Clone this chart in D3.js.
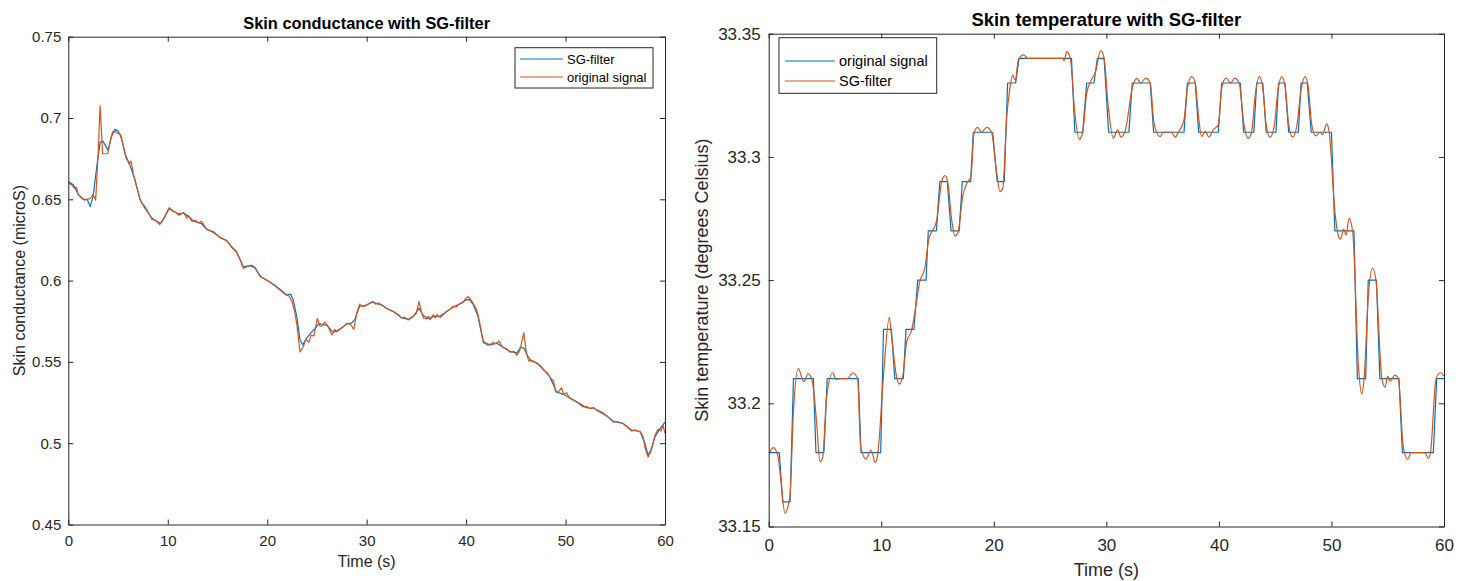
<!DOCTYPE html>
<html>
<head>
<meta charset="utf-8">
<script src="https://cdn.jsdelivr.net/npm/d3@7/dist/d3.min.js"></script>
<style>
  html, body { margin: 0; padding: 0; background: #fff; }
  text { font-family: "Liberation Sans", Arial, Helvetica, sans-serif; }
</style>
</head>
<body>
<svg id="chart" width="1464" height="581"></svg>
<script>
// ---------------- DATA ----------------
// Left panel: skin conductance
const scXTicks = [0, 10, 20, 30, 40, 50, 60];
const scYTicks = [0.45, 0.5, 0.55, 0.6, 0.65, 0.7, 0.75];
const scLegend = ["SG-filter", "original signal"];

const scFiltT = [0,0.5,1.0,1.5,1.9,2.2,2.5,2.9,3.2,3.45,3.75,4.0,4.3,4.7,5.0,5.3,5.7,6.2,6.7,7.2,7.7,8.4,9.0,9.3,9.6,10.15,10.5,11.1,11.6,12.1,12.6,13.4,13.9,14.6,15.25,15.9,16.4,16.9,17.6,18.27,18.8,19.3,20.1,20.7,21.3,21.96,22.36,22.6,23.0,23.3,23.57,23.97,24.3,24.8,25.2,25.6,26.0,26.5,26.8,27.3,28.05,28.5,28.8,29.3,29.8,30.6,31.2,31.5,32.0,32.7,33.5,34.2,34.7,35.26,35.7,36.2,36.7,37.4,38.05,38.7,39.4,39.9,40.3,40.7,41.2,41.7,42.1,42.4,43.1,43.7,44.4,45.1,45.5,45.8,46.25,46.6,47.1,47.8,48.4,49.1,49.8,50.4,51.3,52.1,52.8,53.8,54.8,55.8,56.65,57.5,58.0,58.3,58.6,59.0,59.5,60];
const scFiltV = [0.661,0.659,0.653,0.650,0.650,0.6455,0.652,0.672,0.685,0.686,0.683,0.680,0.688,0.693,0.692,0.689,0.678,0.671,0.662,0.650,0.6445,0.6385,0.636,0.6355,0.638,0.6445,0.643,0.641,0.6415,0.6395,0.6365,0.635,0.6315,0.630,0.6265,0.6248,0.621,0.618,0.6085,0.6092,0.6078,0.6025,0.5998,0.5975,0.5945,0.5912,0.5916,0.5885,0.577,0.5635,0.5605,0.5646,0.5672,0.5705,0.5735,0.5730,0.5725,0.5690,0.5685,0.5700,0.5734,0.5740,0.5760,0.5845,0.5845,0.5868,0.5855,0.5852,0.5828,0.5810,0.5772,0.5762,0.5780,0.5830,0.5785,0.5765,0.5780,0.5782,0.5810,0.5838,0.5858,0.5878,0.5885,0.5855,0.5780,0.5630,0.5605,0.5605,0.5615,0.5590,0.5565,0.5555,0.5590,0.5585,0.5530,0.5505,0.5495,0.5452,0.5410,0.5315,0.5300,0.5280,0.5248,0.5218,0.5215,0.5185,0.5135,0.5122,0.5080,0.5072,0.4995,0.4925,0.4960,0.5040,0.5090,0.5130];

const scOrigT = [0,0.3,0.6,0.8,1.0,1.3,1.6,1.9,2.2,2.5,2.75,3.0,3.2,3.45,3.7,3.95,4.2,4.45,4.7,5.0,5.2,5.5,5.8,6.1,6.3,6.6,7.0,7.3,7.7,8.0,8.4,8.8,9.2,9.5,10.15,10.5,10.8,11.1,11.6,11.9,12.1,12.4,12.8,13.1,13.4,13.7,13.9,14.3,14.6,15.0,15.25,15.6,15.9,16.2,16.4,16.9,17.3,17.6,18.0,18.3,18.6,18.8,19.1,19.5,20.1,20.7,21.3,21.9,22.2,22.5,22.8,23.0,23.3,23.6,23.9,24.2,24.4,24.7,25.04,25.3,25.5,25.8,26.1,26.5,26.8,27.0,27.3,27.7,28.05,28.4,28.7,29.0,29.3,29.6,30.0,30.6,30.9,31.2,31.5,31.8,32.2,32.7,33.1,33.5,33.8,34.2,34.7,35.0,35.26,35.5,35.7,36.0,36.2,36.4,36.7,36.9,37.1,37.4,37.8,38.05,38.4,38.7,39.0,39.4,39.7,39.95,40.2,40.5,40.7,41.0,41.2,41.5,41.75,42.1,42.4,42.7,43.0,43.3,43.7,44.1,44.4,44.8,45.1,45.4,45.8,46.05,46.3,46.6,47.1,47.5,47.8,48.2,48.4,48.8,49.0,49.3,49.6,49.8,50.1,50.4,50.8,51.3,51.7,52.1,52.5,52.8,53.2,53.8,54.2,54.8,55.3,55.8,56.2,56.65,57.0,57.5,57.8,58.0,58.3,58.6,59.0,59.3,59.6,59.8,60];
const scOrigV = [0.660,0.659,0.657,0.6575,0.653,0.651,0.6495,0.650,0.6505,0.653,0.6495,0.678,0.7075,0.678,0.678,0.678,0.685,0.6915,0.6918,0.6905,0.690,0.684,0.6755,0.672,0.6735,0.664,0.655,0.6485,0.6455,0.6425,0.6378,0.6368,0.6345,0.6372,0.6448,0.6425,0.6420,0.6402,0.6418,0.6385,0.6398,0.6365,0.6370,0.6355,0.6365,0.6335,0.6318,0.6305,0.6295,0.6278,0.6265,0.6255,0.6245,0.6225,0.6205,0.6175,0.6125,0.6075,0.6085,0.6095,0.6090,0.6075,0.6045,0.6018,0.5998,0.5972,0.5940,0.5912,0.5905,0.5870,0.5800,0.5720,0.5562,0.5590,0.5640,0.5620,0.5665,0.5660,0.5768,0.5720,0.5722,0.5745,0.5720,0.5665,0.5700,0.5685,0.5702,0.5720,0.5738,0.5730,0.5700,0.5800,0.5855,0.5840,0.5848,0.5872,0.5855,0.5862,0.5848,0.5838,0.5822,0.5808,0.5795,0.5770,0.5775,0.5758,0.5782,0.5800,0.5872,0.5810,0.5770,0.5765,0.5780,0.5760,0.5790,0.5770,0.5790,0.5772,0.5795,0.5812,0.5825,0.5842,0.5838,0.5860,0.5865,0.5890,0.5902,0.5880,0.5860,0.5830,0.5790,0.5700,0.5615,0.5615,0.5605,0.5620,0.5612,0.5628,0.5590,0.5580,0.5560,0.5565,0.5540,0.5570,0.5680,0.5560,0.5505,0.5510,0.5490,0.5475,0.5450,0.5430,0.5410,0.5380,0.5315,0.5318,0.5340,0.5300,0.5310,0.5278,0.5265,0.5245,0.5225,0.5225,0.5212,0.5220,0.5200,0.5180,0.5165,0.5130,0.5132,0.5120,0.5100,0.5075,0.5082,0.5070,0.5040,0.4970,0.4915,0.4950,0.5050,0.5085,0.5075,0.5110,0.5060];

// Right panel: skin temperature
const stXTicks = [0, 10, 20, 30, 40, 50, 60];
const stYTicks = [33.15, 33.2, 33.25, 33.3, 33.35];
const stLegend = ["original signal", "SG-filter"];

// original signal: piecewise-constant levels (start time, end time, value)
const stLevelStart = [0,1.24,2.2,4.2,5.2,8.2,10.2,11.2,12.2,13.24,14.18,15.2,16.2,17.2,18.18,20.3,21.23,22.24,27.2,28.25,29.2,30.2,32.3,34.2,37.2,38.2,40.25,42.2,43.36,44.2,45.3,46.2,47.3,48.2,50.3,52.3,53.27,54.3,56.3,59.35];
const stLevelEnd   = [0.94,1.9,3.97,4.9,7.96,9.95,10.9,11.96,12.9,13.98,14.9,15.87,16.93,17.94,19.9,20.93,21.94,26.9,27.9,28.9,29.8,32.0,33.9,36.9,37.9,39.95,41.9,43.1,43.9,45.07,45.87,47.06,47.85,50.0,52.0,53.04,54.0,56.0,59.05,60];
const stLevelValue = [33.18,33.16,33.21,33.18,33.21,33.18,33.23,33.21,33.23,33.25,33.27,33.29,33.27,33.29,33.31,33.29,33.33,33.34,33.31,33.33,33.34,33.31,33.33,33.31,33.33,33.31,33.33,33.31,33.33,33.31,33.33,33.31,33.33,33.31,33.27,33.21,33.25,33.21,33.18,33.21];

// SG-filtered signal
const stFiltT = [0.1,0.4,0.8,1.1,1.45,1.75,1.9,2.19,2.63,3.1,3.5,3.8,4.0,4.26,4.56,4.8,5.15,5.68,6.0,6.4,7.0,7.46,7.9,8.17,8.64,9.1,9.47,9.7,10.18,10.72,10.9,11.37,11.58,11.9,12.26,12.7,13.0,13.4,13.89,14.2,14.93,15.37,15.66,15.9,16.26,16.55,16.8,17.23,17.6,17.97,18.24,18.57,18.9,19.37,19.8,20.26,20.55,20.8,21.15,21.4,21.68,21.9,22.18,22.62,23.07,26.1,26.25,26.48,26.8,27.2,27.6,27.9,28.25,28.7,29.0,29.5,29.8,30.17,30.62,31.0,31.3,31.7,32.3,32.7,33.05,33.5,33.9,34.23,34.77,35.05,35.8,36.1,36.4,36.9,37.2,37.58,37.9,38.2,38.47,38.8,39.1,39.5,39.95,40.25,40.63,41.05,41.4,41.8,42.2,42.6,42.9,43.25,43.6,43.9,44.2,44.54,44.9,45.25,45.58,45.9,46.2,46.56,46.9,47.3,47.65,47.95,48.25,48.63,48.98,49.2,49.58,49.8,50.32,50.6,50.8,51.1,51.3,51.56,51.9,52.4,52.69,52.9,53.3,53.66,53.95,54.46,54.76,55.0,55.2,55.65,55.95,56.38,56.77,57.1,58.3,58.6,58.8,59.29,59.7,60];
const stFiltV = [33.180,33.182,33.179,33.168,33.1554,33.159,33.163,33.196,33.2142,33.2088,33.212,33.2103,33.205,33.192,33.1763,33.178,33.2027,33.2124,33.2097,33.21,33.21,33.2124,33.21,33.1824,33.1774,33.181,33.176,33.1797,33.21,33.2349,33.228,33.2106,33.2078,33.2107,33.225,33.2297,33.2372,33.249,33.2554,33.266,33.2744,33.29,33.2924,33.29,33.2744,33.2679,33.269,33.2838,33.2893,33.292,33.3096,33.312,33.31,33.312,33.31,33.2933,33.2859,33.2873,33.3163,33.327,33.3332,33.331,33.3393,33.3414,33.34,33.34,33.339,33.3427,33.34,33.3177,33.3071,33.31,33.3258,33.3315,33.334,33.3431,33.34,33.3204,33.3075,33.311,33.308,33.311,33.328,33.3319,33.33,33.332,33.33,33.3136,33.3082,33.31,33.31,33.308,33.31,33.315,33.328,33.3326,33.33,33.316,33.3082,33.3105,33.308,33.311,33.313,33.328,33.332,33.33,33.332,33.33,33.314,33.3075,33.31,33.326,33.3326,33.328,33.313,33.308,33.312,33.327,33.3326,33.328,33.313,33.308,33.312,33.327,33.3326,33.328,33.313,33.3085,33.31,33.309,33.3134,33.31,33.2771,33.2683,33.2666,33.2707,33.2683,33.2751,33.269,33.215,33.2038,33.21,33.245,33.2548,33.25,33.2108,33.2065,33.211,33.209,33.2114,33.21,33.1824,33.1773,33.18,33.18,33.1777,33.18,33.21,33.2124,33.211];

// ---------------- DRAWING ----------------
const BLUE = "#0072BD", ORANGE = "#D95319", AX = "#262626";
const svg = d3.select("#chart");
svg.append("rect").attr("width", 1464).attr("height", 581).attr("fill", "#fff");

function panel(cfg) {
  const g = svg.append("g");
  const x = d3.scaleLinear().domain([0, 60]).range([cfg.left, cfg.right]);
  const y = d3.scaleLinear().domain(cfg.yDomain).range([cfg.bottom, cfg.top]);

  // lines
  const line = d3.line().x(d => x(d[0])).y(d => y(d[1]));
  cfg.series.forEach(s => {
    g.append("path").datum(s.pts)
      .attr("fill", "none").attr("stroke", s.color).attr("stroke-width", 1.2)
      .attr("stroke-linejoin", "round")
      .attr("d", line.curve(s.curve || d3.curveLinear));
  });

  // axes
  const ax = (gen, tx, ty, ticks, fmt, pad) => {
    const a = g.append("g").attr("transform", `translate(${tx},${ty})`)
      .call(gen.tickValues(ticks).tickSizeInner(-5).tickSizeOuter(0).tickPadding(pad).tickFormat(fmt));
    a.select(".domain").attr("stroke", AX);
    a.selectAll(".tick line").attr("stroke", AX);
    a.selectAll("text").attr("fill", AX).style("font-size", cfg.tickFont + "px")
      .style("font-family", '"Liberation Sans", Arial, sans-serif');
    return a;
  };
  ax(d3.axisBottom(x), 0, cfg.bottom, cfg.xTicks, d3.format("d"), cfg.xPad);
  ax(d3.axisTop(x), 0, cfg.top, cfg.xTicks, () => "", 3);
  ax(d3.axisLeft(y), cfg.left, 0, cfg.yTicks, cfg.fmtY, cfg.yPad);
  ax(d3.axisRight(y), cfg.right, 0, cfg.yTicks, () => "", 3);

  // title
  g.append("text").attr("x", (cfg.left + cfg.right) / 2).attr("y", cfg.titleY)
    .attr("text-anchor", "middle").style("font-weight", "bold")
    .style("font-size", cfg.titleFont + "px").attr("fill", "#000").text(cfg.title);
  // x label
  g.append("text").attr("x", (cfg.left + cfg.right) / 2).attr("y", cfg.xLabelY)
    .attr("text-anchor", "middle").style("font-size", cfg.labelFont + "px")
    .attr("fill", AX).text("Time (s)");
  // y label
  g.append("text").attr("transform", `translate(${cfg.yLabelX},${(cfg.top + cfg.bottom) / 2}) rotate(-90)`)
    .attr("text-anchor", "middle").attr("dy", "0.35em").style("font-size", cfg.labelFont + "px")
    .attr("fill", AX).text(cfg.yLabel);

  // legend
  const L = cfg.legend;
  const lg = g.append("g");
  lg.append("rect").attr("x", L.x0).attr("y", L.y0).attr("width", L.x1 - L.x0).attr("height", L.y1 - L.y0)
    .attr("fill", "#fff").attr("stroke", AX).attr("stroke-width", 1);
  L.items.forEach((it, i) => {
    const yy = L.rows[i];
    lg.append("line").attr("x1", L.lx0).attr("x2", L.lx1).attr("y1", yy).attr("y2", yy)
      .attr("stroke", it.color).attr("stroke-width", 1.2);
    lg.append("text").attr("x", L.tx).attr("y", yy).attr("dy", "0.35em")
      .style("font-size", L.font + "px").attr("fill", "#000").text(it.label);
  });
}

// Left panel
panel({
  left: 68.3, right: 665, top: 36.7, bottom: 524.5,
  yDomain: [0.45, 0.75], xTicks: scXTicks, yTicks: scYTicks,
  fmtY: d => String(+d.toFixed(2)),
  tickFont: 15, labelFont: 16, titleFont: 16.4, xPad: 11, yPad: 7,
  title: "Skin conductance with SG-filter", titleY: 29, xLabelY: 567,
  yLabel: "Skin conductance (microS)", yLabelX: 19,
  series: [
    { pts: d3.zip(scFiltT, scFiltV), color: BLUE },
    { pts: d3.zip(scOrigT, scOrigV), color: ORANGE }
  ],
  legend: { x0: 515, x1: 653, y0: 47.7, y1: 88, rows: [59, 77], lx0: 520, lx1: 563, tx: 567, font: 13,
    items: [{ label: scLegend[0], color: BLUE }, { label: scLegend[1], color: ORANGE }] }
});

// Right panel
const stOrigPts = [];
stLevelValue.forEach((v, i) => { stOrigPts.push([stLevelStart[i], v]); stOrigPts.push([stLevelEnd[i], v]); });
panel({
  left: 768.7, right: 1444, top: 33.7, bottom: 526.5,
  yDomain: [33.15, 33.35], xTicks: stXTicks, yTicks: stYTicks,
  fmtY: d => String(+d.toFixed(2)),
  tickFont: 17, labelFont: 18, titleFont: 18.4, xPad: 12, yPad: 8,
  title: "Skin temperature with SG-filter", titleY: 26, xLabelY: 576,
  yLabel: "Skin temperature (degrees Celsius)", yLabelX: 702,
  series: [
    { pts: stOrigPts, color: BLUE },
    { pts: d3.zip(stFiltT, stFiltV), color: ORANGE, curve: d3.curveMonotoneX }
  ],
  legend: { x0: 779, x1: 936.7, y0: 37.7, y1: 93.3, rows: [61, 81], lx0: 785, lx1: 835, tx: 839, font: 14.5,
    items: [{ label: stLegend[0], color: BLUE }, { label: stLegend[1], color: ORANGE }] }
});
</script>
</body>
</html>
